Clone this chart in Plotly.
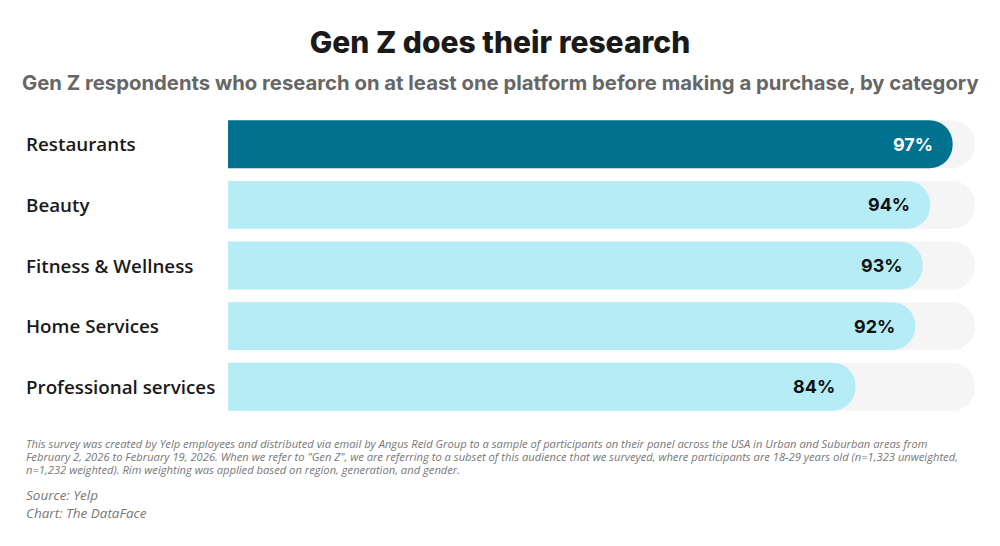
import plotly.graph_objects as go

categories = ["Restaurants", "Beauty", "Fitness & Wellness", "Home Services", "Professional services"]
values = [97, 94, 93, 92, 84]
labels = ["97%", "94%", "93%", "92%", "84%"]
track = [100, 100, 100, 100, 100]

bar_colors = ["#00728f", "#b6ecf6", "#b6ecf6", "#b6ecf6", "#b6ecf6"]
label_colors = ["#ffffff", "#111111", "#111111", "#111111", "#111111"]

note_lines = [
    "This survey was created by Yelp employees and distributed via email by Angus Reid Group to a sample of participants on their panel across the USA in Urban and Suburban areas from",
    "February 2, 2026 to February 19, 2026. When we refer to \"Gen Z\", we are referring to a subset of this audience that we surveyed, where participants are 18-29 years old (n=1,323 unweighted,",
    "n=1,232 weighted). Rim weighting was applied based on region, generation, and gender.",
]
source_lines = ["Source: Yelp", "Chart: The DataFace"]

fig = go.Figure()

# grey track behind each bar (own axis so the bars don't interact)
fig.add_trace(go.Bar(x=track, y=categories, orientation="h", yaxis="y",
                     marker=dict(color="#f5f5f5", cornerradius=24, line_width=0),
                     hoverinfo="skip", showlegend=False))
fig.add_trace(go.Bar(x=values, y=categories, orientation="h", yaxis="y2",
                     marker=dict(color=bar_colors, cornerradius=24, line_width=0),
                     showlegend=False))

# value labels at the bar ends
for cat, v, lab, col in zip(categories, values, labels, label_colors):
    fig.add_annotation(x=v, y=cat, yref="y2", text=lab, showarrow=False, xanchor="right", xshift=-18,
                       font=dict(family="Inter", size=18, color=col, weight=700))

# category labels, left aligned
for cat in categories:
    fig.add_annotation(x=0, y=cat, xref="paper", text=cat, showarrow=False, xanchor="left",
                       xshift=-204, font=dict(family="Open Sans", size=18.8, color="#1a1a1a", weight=600))

fig.update_layout(
    width=1000, height=546,
    margin=dict(l=228, r=25, t=114, b=129),
    barmode="overlay", bargap=0.21,
    plot_bgcolor="white", paper_bgcolor="white",
    title=dict(text="Gen Z does their research", x=0.5, xanchor="center",
               y=1 - 42 / 546, yanchor="middle",
               font=dict(family="Inter", size=30, color="#1a1a1a", weight=800)),
    xaxis=dict(range=[0, 100], visible=False, fixedrange=True),
    yaxis=dict(categoryorder="array", categoryarray=categories, range=[4.5, -0.5],
               visible=False, fixedrange=True),
    yaxis2=dict(categoryorder="array", categoryarray=categories, range=[4.5, -0.5],
                overlaying="y", visible=False, fixedrange=True),
)

fig.add_annotation(x=(500 - 228) / 747, y=1, xref="paper", yref="paper", yanchor="middle",
                   xanchor="center", yshift=32, showarrow=False,
                   text="Gen Z respondents who research on at least one platform before making a purchase, by category",
                   font=dict(family="Inter", size=20.3, color="#666666", weight=700))

# footnote, one annotation per line to keep the tight spacing
for i, line in enumerate(note_lines):
    fig.add_annotation(x=0, y=0, xref="paper", yref="paper", xanchor="left", yanchor="middle",
                       xshift=-204, yshift=-26 - 13 * i, align="left", showarrow=False, text=line,
                       font=dict(family="Open Sans", size=11.2, color="#777777", style="italic"))
fig.add_annotation(x=0, y=0, xref="paper", yref="paper", xanchor="left", yanchor="middle",
                   xshift=-204, yshift=-87, align="left", showarrow=False,
                   text="<br>".join(source_lines),
                   font=dict(family="Open Sans", size=13.5, color="#777777", style="italic"))

fig.write_html("out.html", config={"displayModeBar": False},
               post_script="document.body.style.margin='0';")
